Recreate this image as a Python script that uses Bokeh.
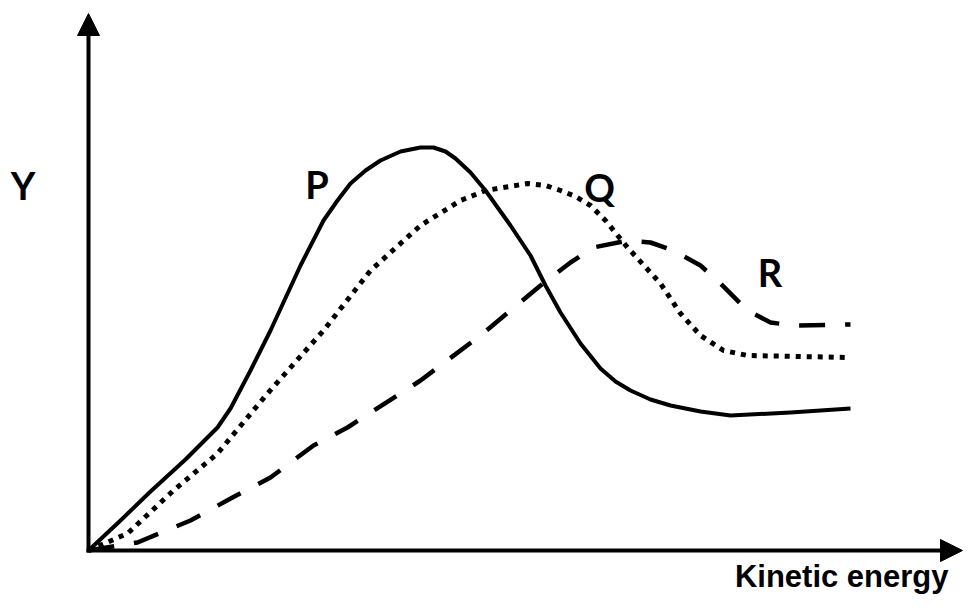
from bokeh.plotting import figure
from bokeh.models import Arrow, NormalHead, Label, Range1d
from bokeh.embed import file_html
from bokeh.resources import INLINE

# Curve P (solid)
p_x = [0, 3.2, 6.2, 9.7, 12.9, 14.2, 16.2, 18.2, 21.2, 23.5, 24.9, 26.2, 27.7, 29.2, 31.2,
       33.2, 34.5, 35.7, 36.7, 38.2, 39.7, 42.2, 44.2, 45.7, 47.2, 49.2, 51.2, 52.7, 54.2,
       56.2, 58.2, 61.2, 64.2, 70.2, 76.2]
p_y = [0, 3.0, 5.9, 9.1, 12.3, 14.2, 18.0, 22.0, 28.5, 33.0, 35.0, 36.7, 38.0, 39.0, 39.9,
       40.3, 40.3, 39.9, 39.2, 37.8, 36.0, 32.5, 29.5, 26.5, 23.8, 20.7, 18.2, 16.9, 16.0,
       15.1, 14.5, 13.9, 13.5, 13.8, 14.2]

# Curve Q (dotted)
q_x = [0, 3.9, 8.5, 12.9, 17.9, 23.5, 28.2, 33.2, 37.2, 39.7, 43.9, 45.7, 47.2, 48.7,
       50.2, 51.7, 53.9, 57.2, 59.2, 61.2, 63.5, 65.9, 76.2]
q_y = [0, 1.7, 6.0, 9.7, 15.7, 22.0, 28.0, 32.5, 35.0, 36.0, 36.7, 36.5, 36.0, 35.4,
       34.5, 33.0, 30.3, 26.7, 23.7, 21.5, 20.0, 19.5, 19.3]

# Curve R (dashed)
r_x = [0, 4.9, 10.2, 14.4, 18.2, 22.5, 25.9, 33.2, 39.2, 45.2, 48.2, 50.5, 53.9, 56.2,
       58.5, 61.2, 63.2, 65.9, 68.2, 70.5, 76.2]
r_y = [0, 0.8, 3.0, 5.3, 7.3, 10.5, 12.3, 17.0, 21.5, 26.5, 28.8, 30.3, 31.0, 30.8,
       30.0, 28.5, 26.7, 24.0, 22.8, 22.5, 22.6]

curve_names = ["P", "Q", "R"]
x_title = "Kinetic energy"
y_title = "Y"

p = figure(width=964, height=594, output_backend="svg", toolbar_location=None,
           x_range=Range1d(-8.8, 87.6), y_range=Range1d(-4.4, 55.0),
           min_border=0, outline_line_color=None)
p.axis.visible = False
p.grid.visible = False

# axes with arrow heads
p.add_layout(Arrow(end=NormalHead(size=22, fill_color="black", line_color="black"),
                   x_start=0, y_start=-0.2, x_end=0, y_end=53.7,
                   line_width=4, line_color="black"))
p.add_layout(Arrow(end=NormalHead(size=22, fill_color="black", line_color="black"),
                   x_start=-0.2, y_start=0, x_end=87.4, y_end=0,
                   line_width=4, line_color="black"))

p.line(p_x, p_y, line_color="black", line_width=4, line_join="round")
p.line(q_x, q_y, line_color="black", line_width=5, line_dash="5 6")
p.line(r_x, r_y, line_color="black", line_width=4.5, line_dash="26 20")

lab_font = "Lato"
for name, (lx, ly) in zip([y_title] + curve_names,
                          [(-6.55, 36.6), (22.85, 36.7), (51.1, 36.4), (68.15, 27.9)]):
    p.add_layout(Label(x=lx, y=ly, text=name, text_font=lab_font, text_font_size="38px",
                       text_font_style="bold", text_align="center",
                       text_baseline="alphabetic", text_color="black"))

p.add_layout(Label(x=86.0, y=-4.3, text=x_title, text_font="Liberation Sans",
                   text_font_size="31px", text_font_style="bold", text_align="right",
                   text_baseline="bottom", text_color="black"))

open("out.html", "w").write(file_html(p, INLINE))
